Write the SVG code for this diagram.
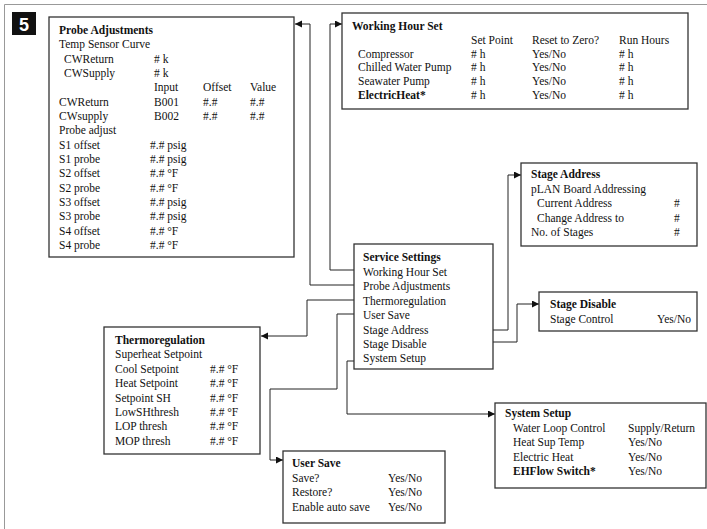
<svg xmlns="http://www.w3.org/2000/svg" width="707" height="529" viewBox="0 0 707 529">
<style>
text{font-family:"Liberation Serif","Times New Roman",serif;font-size:11.5px;fill:#111}
.b{font-weight:bold}
.box{fill:#fff;stroke:#333;stroke-width:1.3}
.con{fill:none;stroke:#222;stroke-width:1}
.frame{fill:none;stroke:#999;stroke-width:1}
</style>
<defs>
<marker id="ah" markerUnits="userSpaceOnUse" markerWidth="8" markerHeight="8" refX="7" refY="3.5" orient="auto">
<path d="M0,0 L7,3.5 L0,7 z" fill="#111"/>
</marker>
</defs>
<rect width="707" height="529" fill="#fff"/>
<path class="frame" d="M4.5,529 V4.5 H707"/>
<g id="badge">
<rect x="12" y="12" width="24" height="23" fill="#111"/>
<text x="24" y="30.5" text-anchor="middle" style="font-family:'Liberation Sans',Arial,sans-serif;font-size:18px;font-weight:bold;fill:#fff">5</text>
</g>
<g id="connectors">
<path class="con" d="M354,270 H330 V24 H342" marker-end="url(#ah)"/>
<path class="con" d="M354,285 H310 V24 H295" marker-end="url(#ah)"/>
<path class="con" d="M354,300 H307 V336 H261" marker-end="url(#ah)"/>
<path class="con" d="M354,314 H337 V389 H270 V460 H283" marker-end="url(#ah)"/>
<path class="con" d="M493,330 H508 V175 H521" marker-end="url(#ah)"/>
<path class="con" d="M493,342 H517 V304 H539" marker-end="url(#ah)"/>
<path class="con" d="M354,361 H347 V414 H495" marker-end="url(#ah)"/>
</g>
<g id="probe-adjustments">
<rect class="box" x="49" y="17" width="245" height="240"/>
<text class="b" x="59" y="34">Probe Adjustments</text>
<text x="59" y="48.3">Temp Sensor Curve</text>
<text x="64" y="62.7">CWReturn</text><text x="154" y="62.7"># k</text>
<text x="64" y="77">CWSupply</text><text x="154" y="77"># k</text>
<text x="154" y="91.3">Input</text><text x="203" y="91.3">Offset</text><text x="250" y="91.3">Value</text>
<text x="59" y="105.7">CWReturn</text><text x="154" y="105.7">B001</text><text x="203" y="105.7">#.#</text><text x="250" y="105.7">#.#</text>
<text x="59" y="120">CWsupply</text><text x="154" y="120">B002</text><text x="203" y="120">#.#</text><text x="250" y="120">#.#</text>
<text x="59" y="134.3">Probe adjust</text>
<text x="59" y="148.7">S1 offset</text><text x="150" y="148.7">#.# psig</text>
<text x="59" y="163">S1 probe</text><text x="150" y="163">#.# psig</text>
<text x="59" y="177.3">S2 offset</text><text x="150" y="177.3">#.# °F</text>
<text x="59" y="191.7">S2 probe</text><text x="150" y="191.7">#.# °F</text>
<text x="59" y="206">S3 offset</text><text x="150" y="206">#.# psig</text>
<text x="59" y="220.3">S3 probe</text><text x="150" y="220.3">#.# psig</text>
<text x="59" y="234.7">S4 offset</text><text x="150" y="234.7">#.# °F</text>
<text x="59" y="249">S4 probe</text><text x="150" y="249">#.# °F</text>
</g>
<g id="working-hour-set">
<rect class="box" x="342" y="13" width="346" height="96"/>
<text class="b" x="352" y="30">Working Hour Set</text>
<text x="471" y="44">Set Point</text><text x="532" y="44">Reset to Zero?</text><text x="619" y="44">Run Hours</text>
<text x="358" y="57.5">Compressor</text><text x="471" y="57.5"># h</text><text x="532" y="57.5">Yes/No</text><text x="619" y="57.5"># h</text>
<text x="358" y="71">Chilled Water Pump</text><text x="471" y="71"># h</text><text x="532" y="71">Yes/No</text><text x="619" y="71"># h</text>
<text x="358" y="85">Seawater Pump</text><text x="471" y="85"># h</text><text x="532" y="85">Yes/No</text><text x="619" y="85"># h</text>
<text class="b" x="358" y="99">ElectricHeat*</text><text x="471" y="99"># h</text><text x="532" y="99">Yes/No</text><text x="619" y="99"># h</text>
</g>
<g id="stage-address">
<rect class="box" x="521" y="163" width="176" height="83"/>
<text class="b" x="531" y="178.3">Stage Address</text>
<text x="531" y="193">pLAN Board Addressing</text>
<text x="537" y="207">Current Address</text><text x="674" y="207">#</text>
<text x="537" y="221.5">Change Address to</text><text x="674" y="221.5">#</text>
<text x="531" y="236">No. of Stages</text><text x="674" y="236">#</text>
</g>
<g id="service-settings">
<rect class="box" x="354" y="244" width="139" height="125"/>
<text class="b" x="363" y="261">Service Settings</text>
<text x="363" y="275.5">Working Hour Set</text>
<text x="363" y="290">Probe Adjustments</text>
<text x="363" y="304.5">Thermoregulation</text>
<text x="363" y="319">User Save</text>
<text x="363" y="333.5">Stage Address</text>
<text x="363" y="348">Stage Disable</text>
<text x="363" y="362">System Setup</text>
</g>
<g id="stage-disable">
<rect class="box" x="539" y="292" width="158" height="39"/>
<text class="b" x="550" y="308">Stage Disable</text>
<text x="550" y="322.5">Stage Control</text><text x="657" y="322.5">Yes/No</text>
</g>
<g id="thermoregulation">
<rect class="box" x="104" y="327" width="156" height="127"/>
<text class="b" x="115" y="344">Thermoregulation</text>
<text x="115" y="358.4">Superheat Setpoint</text>
<text x="115" y="372.8">Cool Setpoint</text><text x="210" y="372.8">#.# °F</text>
<text x="115" y="387.2">Heat Setpoint</text><text x="210" y="387.2">#.# °F</text>
<text x="115" y="401.6">Setpoint SH</text><text x="210" y="401.6">#.# °F</text>
<text x="115" y="416">LowSHthresh</text><text x="210" y="416">#.# °F</text>
<text x="115" y="430.4">LOP thresh</text><text x="210" y="430.4">#.# °F</text>
<text x="115" y="444.8">MOP thresh</text><text x="210" y="444.8">#.# °F</text>
</g>
<g id="system-setup">
<rect class="box" x="495" y="403" width="211" height="85"/>
<text class="b" x="505" y="417">System Setup</text>
<text x="513" y="432">Water Loop Control</text><text x="628" y="432">Supply/Return</text>
<text x="513" y="446">Heat Sup Temp</text><text x="628" y="446">Yes/No</text>
<text x="513" y="460.5">Electric Heat</text><text x="628" y="460.5">Yes/No</text>
<text class="b" x="513" y="474.5">EHFlow Switch*</text><text x="628" y="474.5">Yes/No</text>
</g>
<g id="user-save">
<rect class="box" x="283" y="451" width="162" height="72"/>
<text class="b" x="292" y="467">User Save</text>
<text x="292" y="482">Save?</text><text x="388" y="482">Yes/No</text>
<text x="292" y="496">Restore?</text><text x="388" y="496">Yes/No</text>
<text x="292" y="511">Enable auto save</text><text x="388" y="511">Yes/No</text>
</g>
</svg>
